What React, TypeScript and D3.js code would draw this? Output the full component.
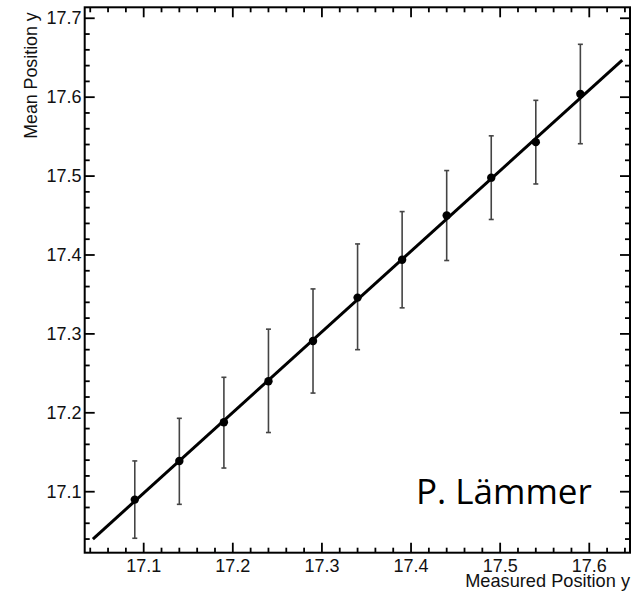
import React from "react";
import * as d3 from "d3";

const measuredX = [17.09, 17.14, 17.19, 17.24, 17.29, 17.34, 17.39, 17.44, 17.49, 17.54, 17.59];
const meanY = [17.090, 17.139, 17.188, 17.240, 17.291, 17.346, 17.394, 17.450, 17.498, 17.543, 17.604];
const errUp = [17.139, 17.193, 17.245, 17.306, 17.357, 17.414, 17.455, 17.507, 17.551, 17.596, 17.667];
const errDown = [17.041, 17.084, 17.130, 17.175, 17.225, 17.280, 17.333, 17.393, 17.445, 17.490, 17.541];
const fitX = [17.043, 17.637];
const fitY = [17.040, 17.647];
const xDomain = [17.0338, 17.6457];
const yDomain = [17.0227, 17.7139];
const xLabel = "Measured Position y";
const yLabel = "Mean Position y";
const credit = "P. Lämmer";

export default function App() {
  const W = 643, H = 595;
  const L = 84.7, R = 630, T = 7.3, B = 552.7;
  const x = d3.scaleLinear().domain(xDomain).range([L, R]);
  const y = d3.scaleLinear().domain(yDomain).range([B, T]);
  const xMajor = x.ticks(6);
  const yMajor = y.ticks(6);
  const xMinor = x.ticks(30);
  const yMinor = y.ticks(30);
  const isMajor = (v: number, majors: number[]) => majors.some((m) => Math.abs(m - v) < 1e-6);
  const line = d3.line<number>().x((_, i) => x(fitX[i])).y((d) => y(d));
  const font = "'Liberation Sans', Arial, Helvetica, sans-serif";
  const majLen = 10, minLen = 5;
  return (
    <svg width={W} height={H} style={{ position: "absolute", left: 0, top: 0, background: "#fff" }}>
      <rect x={0} y={0} width={W} height={H} fill="#fff" />
      {/* ticks */}
      <g stroke="#000" strokeWidth={1.8}>
        {xMinor.map((v) => {
          const len = isMajor(v, xMajor) ? majLen : minLen;
          return (
            <g key={"xt" + v}>
              <line x1={x(v)} x2={x(v)} y1={B} y2={B - len} />
              <line x1={x(v)} x2={x(v)} y1={T} y2={T + len} />
            </g>
          );
        })}
        {yMinor.map((v) => {
          const len = isMajor(v, yMajor) ? majLen : minLen;
          return (
            <g key={"yt" + v}>
              <line x1={L} x2={L + len} y1={y(v)} y2={y(v)} />
              <line x1={R} x2={R - len} y1={y(v)} y2={y(v)} />
            </g>
          );
        })}
      </g>
      <rect x={L} y={T} width={R - L} height={B - T} fill="none" stroke="#000" strokeWidth={2} />
      {/* tick labels */}
      <g fontFamily={font} fontSize={18} fill="#111">
        {xMajor.map((v) => (
          <text key={"xl" + v} x={x(v)} y={571.5} textAnchor="middle">{v.toFixed(1)}</text>
        ))}
        {yMajor.map((v) => (
          <text key={"yl" + v} x={81.5} y={y(v)} textAnchor="end" dominantBaseline="central">{v.toFixed(1)}</text>
        ))}
      </g>
      <text x={R} y={587} textAnchor="end" fontFamily={font} fontSize={18.2} fill="#111">{xLabel}</text>
      <text transform={`translate(37,${T + 5}) rotate(-90)`} textAnchor="end" fontFamily={font} fontSize={17.8} fill="#111">{yLabel}</text>
      {/* error bars */}
      <g stroke="#444" strokeWidth={1.6}>
        {measuredX.map((v, i) => (
          <g key={"e" + i}>
            <line x1={x(v)} x2={x(v)} y1={y(errUp[i])} y2={y(errDown[i])} />
            <line x1={x(v) - 2.5} x2={x(v) + 2.5} y1={y(errUp[i])} y2={y(errUp[i])} />
            <line x1={x(v) - 2.5} x2={x(v) + 2.5} y1={y(errDown[i])} y2={y(errDown[i])} />
          </g>
        ))}
      </g>
      {/* fit line */}
      <path d={line(fitY) || ""} fill="none" stroke="#000" strokeWidth={3} />
      {/* markers */}
      {measuredX.map((v, i) => (
        <circle key={"p" + i} cx={x(v)} cy={y(meanY[i])} r={4.2} fill="#000" />
      ))}
      <text x={416} y={504} fontFamily="'Open Sans', sans-serif" fontSize={35} fill="#000">{credit}</text>
    </svg>
  );
}
